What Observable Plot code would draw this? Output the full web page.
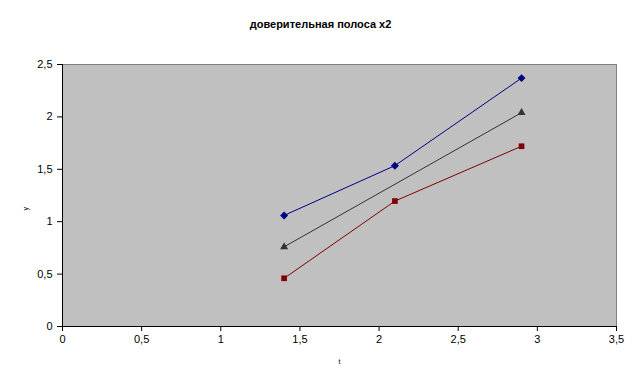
<!DOCTYPE html>
<html>
<head>
<meta charset="utf-8">
<script src="https://cdn.jsdelivr.net/npm/d3@7"></script>
<script src="https://cdn.jsdelivr.net/npm/@observablehq/plot@0.6"></script>
<style>
  html, body { margin: 0; padding: 0; background: #fff; }
  #chart svg { display: block; font-family: Arial, "Liberation Sans", sans-serif; }
</style>
</head>
<body>
<div id="chart"></div>
<script>
const title = "доверительная полоса x2";
const xLabel = "t";
const yLabel = "y";
const t = [1.4, 2.1, 2.9];
const upper = [1.06, 1.535, 2.37];
const lower = [0.46, 1.197, 1.72];
const midT = [1.4, 2.9];
const mid = [0.76, 2.04];
const xTicks = [0, 0.5, 1, 1.5, 2, 2.5, 3, 3.5];
const yTicks = [0, 0.5, 1, 1.5, 2, 2.5];

const upperData = t.map((x, i) => ({x, y: upper[i]}));
const lowerData = t.map((x, i) => ({x, y: lower[i]}));
const midData = midT.map((x, i) => ({x, y: mid[i]}));
const fmt = d => String(d).replace(".", ",");

const chart = Plot.plot({
  width: 642,
  height: 389,
  marginLeft: 62,
  marginRight: 26,
  marginTop: 64,
  marginBottom: 63,
  style: {fontFamily: "Arial, 'Liberation Sans', sans-serif", fontSize: "11px", color: "#000", background: "#fff"},
  x: {domain: [0, 3.5]},
  y: {domain: [0, 2.5]},
  marks: [
    Plot.frame({fill: "#c0c0c0", stroke: "#808080"}),
    Plot.axisX({ticks: xTicks, tickFormat: fmt, tickSize: 5, tickPadding: 4, label: null, fontSize: 11}),
    Plot.axisY({ticks: yTicks, tickFormat: fmt, tickSize: 5, tickPadding: 5, label: null, fontSize: 11}),
    Plot.ruleX([0], {stroke: "#000"}),
    Plot.ruleY([0], {stroke: "#000"}),
    Plot.line(upperData, {x: "x", y: "y", stroke: "#000080", strokeWidth: 1}),
    Plot.line(midData, {x: "x", y: "y", stroke: "#333333", strokeWidth: 1}),
    Plot.line(lowerData, {x: "x", y: "y", stroke: "#800000", strokeWidth: 1}),
    Plot.dot(upperData, {x: "x", y: "y", symbol: "diamond2", fill: "#000080", stroke: "none", r: 3.6}),
    Plot.dot(midData, {x: "x", y: "y", symbol: "triangle2", fill: "#333333", stroke: "none", r: 3.8}),
    Plot.dot(lowerData, {x: "x", y: "y", symbol: "square2", fill: "#800000", stroke: "none", r: 3.6}),
    Plot.text([title], {frameAnchor: "top", dx: -19, dy: -44, fontWeight: "bold", fontSize: 11, fill: "#000"}),
    Plot.text([xLabel], {frameAnchor: "bottom", dy: 37, fontSize: 7, fill: "#000"}),
    Plot.text([yLabel], {frameAnchor: "left", dx: -37, dy: 15, fontSize: 7, rotate: -90, fill: "#000"})
  ]
});
document.getElementById("chart").appendChild(chart);
</script>
</body>
</html>
